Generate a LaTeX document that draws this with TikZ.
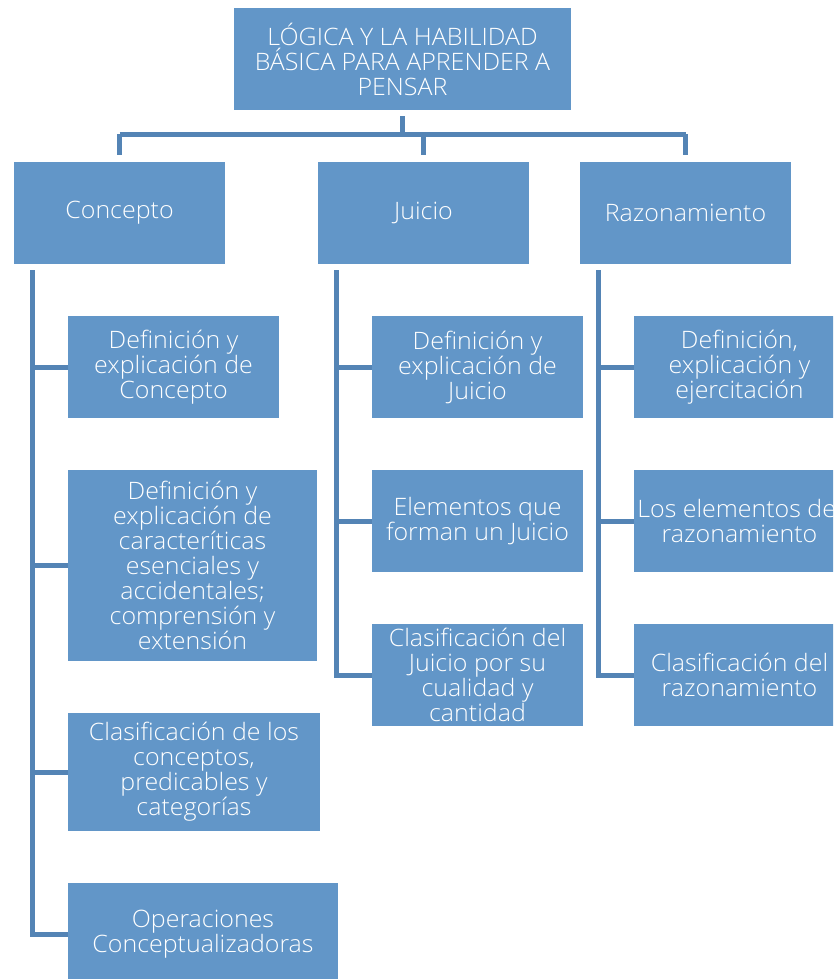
\documentclass[tikz,border=0pt]{standalone}
\usepackage{fontspec}
\setmainfont{Open Sans Light}[FakeStretch=1.04]
\usetikzlibrary{positioning}
\definecolor{boxblue}{RGB}{98,150,200}
\definecolor{lineblue}{RGB}{84,132,181}

\begin{document}
\begin{tikzpicture}[x=1pt,y=-1pt,
        box/.style={fill=boxblue,text=white,align=center,inner sep=1pt,
            minimum width=211pt,minimum height=102pt,
            font=\fontsize{24}{25}\selectfont},
        link/.style={lineblue,line width=5pt}]
        \clip (0,0) rectangle (833,979);
        \node[box,minimum width=337pt] (top) at (402.5,59) {LÓGICA Y LA HABILIDAD\\BÁSICA PARA APRENDER A\\PENSAR};
        \node[box] (con) at (119.5,213) {Concepto};
        \node[box] (jui) at (423.5,213) {Juicio};
        \node[box] (raz) at (685.5,213) {Razonamiento};
        % hijos de Concepto
        \node[box] (c1) at (173.5,367) {Definición y\\explicación de\\Concepto};
        \node[box,minimum width=249pt,minimum height=191pt] (c2) at (192.5,565.5) {Definición y\\explicación de\\caracteríticas\\esenciales y\\accidentales;\\comprensión y\\extensión};
        \node[box,minimum width=252pt,minimum height=118pt] (c3) at (194,772) {Clasificación de los\\conceptos,\\predicables y\\categorías};
        \node[box,minimum width=270pt] (c4) at (203,934) {Operaciones\\Conceptualizadoras};
        % hijos de Juicio
        \node[box] (j1) at (477.5,367) {Definición y\\explicación de\\Juicio};
        \node[box] (j2) at (477.5,521) {Elementos que\\forman un Juicio};
        \node[box] (j3) at (477.5,675) {Clasificación del\\Juicio por su\\cualidad y\\cantidad};
        % hijos de Razonamiento
        \node[box] (r1) at (739.5,367) {Definición,\\explicación y\\ejercitación};
        \node[box] (r2) at (739.5,521) {Los elementos del\\razonamiento};
        \node[box] (r3) at (739.5,675) {Clasificación del\\razonamiento};
        % conectores
        \draw[link,shorten <=6pt] (top.south) -- ++(0,24) coordinate (hub);
        \draw[link] (con.north |- hub) -- (raz.north |- hub);
        \foreach \n in {con,jui,raz}
            \draw[link,shorten >=7pt] (\n.north |- hub) -- (\n.north);
        \coordinate (cbar) at ([xshift=19pt,yshift=-6pt]con.south west);
        \coordinate (jbar) at ([xshift=19pt,yshift=-6pt]jui.south west);
        \coordinate (rbar) at ([xshift=19pt,yshift=-6pt]raz.south west);
        \draw[link] (cbar) |- (c4.west);
        \draw[link] (jbar) |- (j3.west);
        \draw[link] (rbar) |- (r3.west);
        \foreach \n in {c1,c2,c3}
            \draw[link] (cbar |- \n.west) -- (\n.west);
        \foreach \b/\n in {jbar/j1,jbar/j2,rbar/r1,rbar/r2}
            \draw[link] (\b |- \n.west) -- (\n.west);
\end{tikzpicture}
\end{document}
